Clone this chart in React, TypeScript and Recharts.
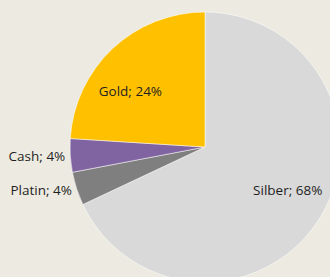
import { PieChart, Pie, Cell } from "recharts";

const names = ["Silber", "Platin", "Cash", "Gold"];
const shares = [68, 4, 4, 24];
const colors = ["#D9D9D9", "#7F7F7F", "#8064A2", "#FFC000"];

// labels inside the big slices, outside for the small ones
const outside = ["Platin", "Cash"];
const angleNudge: { [k: string]: number } = { Gold: 10, Silber: 5 };

const RADIAN = Math.PI / 180;

const renderLabel = (props: any) => {
  const { cx, cy, midAngle, outerRadius, index } = props;
  const name = names[index];
  const text = `${name}; ${shares[index]}%`;
  if (outside.includes(name)) {
    const r = outerRadius + 5;
    const x = cx + r * Math.cos(-midAngle * RADIAN);
    const y = cy + r * Math.sin(-midAngle * RADIAN);
    return (
      <text x={x} y={y} textAnchor="end" dominantBaseline="central" fill="#1f1f1f" fontSize={13.5}>
        {text}
      </text>
    );
  }
  const a = midAngle + (angleNudge[name] || 0);
  const r = outerRadius * 0.69;
  const x = cx + r * Math.cos(-a * RADIAN);
  const y = cy + r * Math.sin(-a * RADIAN);
  return (
    <text x={x} y={y} textAnchor="middle" dominantBaseline="central" fill="#1f1f1f" fontSize={13.5}>
      {text}
    </text>
  );
};

export default function App() {
  const data = names.map((n, i) => ({ name: n, value: shares[i] }));
  return (
    <div
      style={{
        position: "fixed",
        left: 0,
        top: 0,
        width: 330,
        height: 277,
        background: "#EDEBE1",
        fontFamily: "'Open Sans', sans-serif",
      }}
    >
      <PieChart width={330} height={277} margin={{ top: 0, right: 0, bottom: 0, left: 0 }}>
        <Pie
          data={data}
          dataKey="value"
          nameKey="name"
          cx={205}
          cy={147}
          outerRadius={135}
          startAngle={90}
          endAngle={-270}
          stroke="#ffffff"
          strokeWidth={0.5}
          label={renderLabel}
          labelLine={false}
          isAnimationActive={false}
        >
          {data.map((d, i) => (
            <Cell key={d.name} fill={colors[i]} />
          ))}
        </Pie>
      </PieChart>
    </div>
  );
}
